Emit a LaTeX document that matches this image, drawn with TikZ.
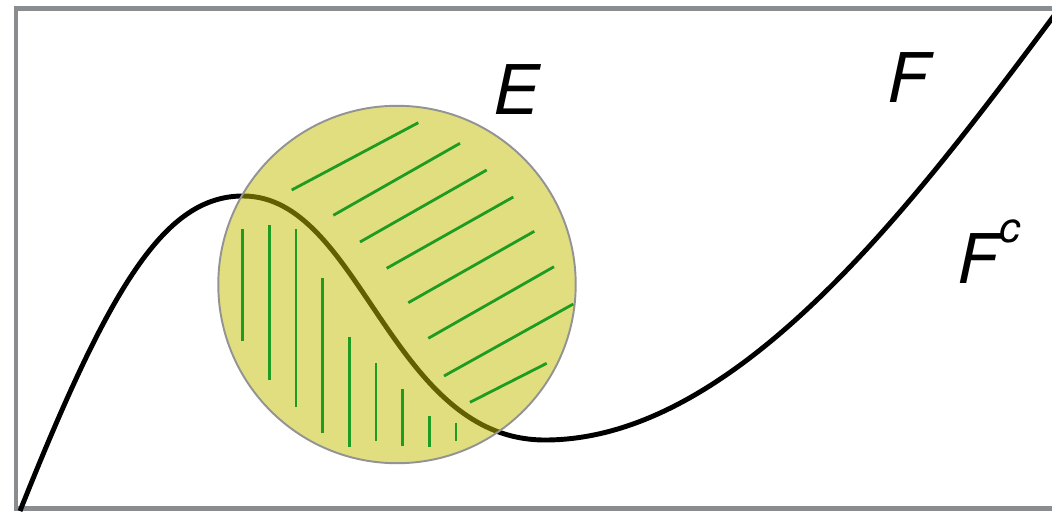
\documentclass[tikz,border=0pt]{standalone}
\usepackage{fontspec}
\setmainfont{TeX Gyre Heros}
\usepackage{tikz}
\definecolor{framegray}{HTML}{8A8D90}
\definecolor{setyellow}{RGB}{194,190,0}
\definecolor{hatchgreen}{HTML}{1E9B22}

\begin{document}
\begin{tikzpicture}[x=0.02cm,y=-0.02cm,every node/.style={font=\fontsize{39}{44}\selectfont\itshape,inner sep=0pt},
  hatch/.style={hatchgreen,line width=1.6pt},
  curveline/.style={black,line width=2.8pt}]
\useasboundingbox (0,0) rectangle (1052,511);
\clip (0,0) rectangle (1052,511);
\draw[framegray,line width=2.8pt] (16,8.5) rectangle (1070,508.5);
\coordinate (start) at (20,511);
\coordinate (top) at (243,196);
\coordinate (low) at (545,440);
\coordinate (stop) at (1062,5);
\draw[curveline] (start) .. controls (110,285) and (165,196) .. (top)
  .. controls (361,196) and (390,440) .. (low)
  .. controls (740,440) and (920,195) .. (stop);
\node[circle,draw=gray!85,line width=1.1pt,fill=setyellow,fill opacity=0.5,draw opacity=1,minimum size=7.15cm] (setE) at (397,284.5) {};
\foreach \xa/\ya/\xb/\yb in {291.7/190/418.3/122.7, 333.3/215.3/460/143.3, 360/242/486.7/170, 386.7/268.3/513.3/197,
    408.3/302.7/534.3/231.3, 428.3/338.3/554/266.7, 444/376/573.3/304, 470/402.3/546.7/363.3}
  \draw[hatch] (\xa,\ya) -- (\xb,\yb);
\foreach \xa/\ya/\yb in {242.7/229.3/341, 269.3/225/380, 296/229.3/406.7, 322.7/278.3/433.3, 349.3/336.7/446.7,
    376/362.7/440.7, 402.7/389.3/445.7, 429.3/416/446.7, 456/422.7/440.7}
  \draw[hatch] (\xa,\ya) -- (\xa,\yb);
\node (labE) at (516,90) {E};
\node (labF) at (908,78) {F};
\node[anchor=base west] (labFc) at (957,283) {F\raisebox{23pt}{\fontsize{24}{24}\selectfont c}};
\end{tikzpicture}
\end{document}
